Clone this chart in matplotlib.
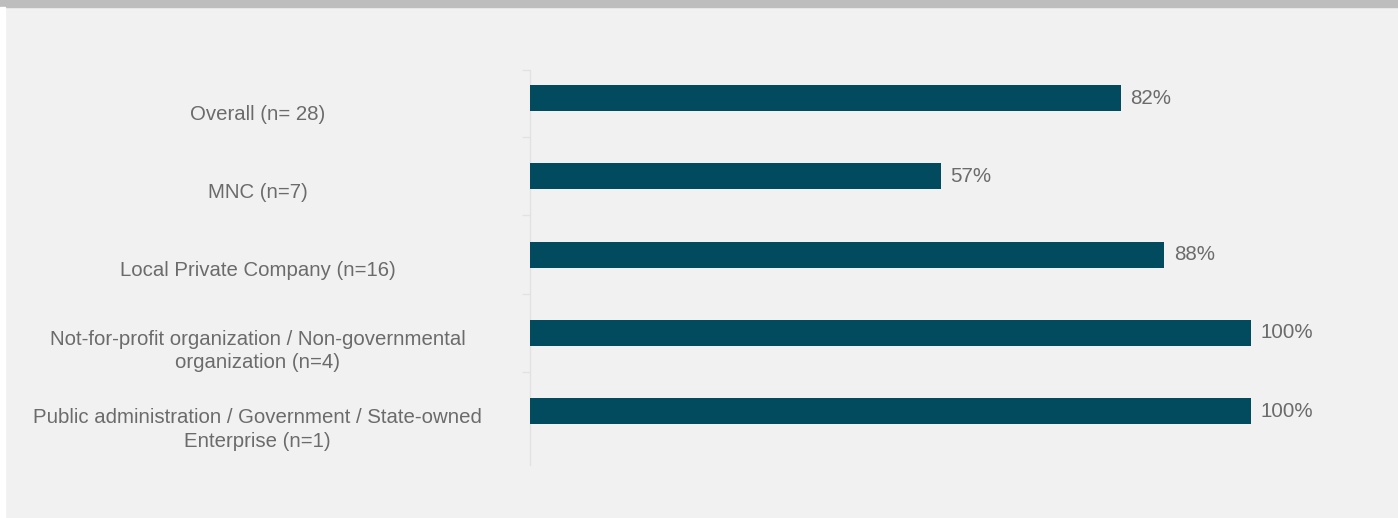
import matplotlib.pyplot as plt
from matplotlib.patches import Rectangle
from matplotlib.transforms import ScaledTranslation

categories = ['Overall (n= 28)',
              'MNC (n=7)',
              'Local Private Company (n=16)',
              'Not-for-profit organization / Non-governmental\norganization (n=4)',
              'Public administration / Government / State-owned\nEnterprise (n=1)']
values = [82, 57, 88, 100, 100]

W, H = 1398, 518
bg = '#f1f1f1'
bar_color = '#024b5e'
text_color = '#6b6b6b'

fig = plt.figure(figsize=(W / 100, H / 100), dpi=100)
fig.patch.set_facecolor(bg)

# grey band along the top, white sliver on the left edge
fig.patches.append(Rectangle((0, 1 - 7 / H), 1, 7 / H, transform=fig.transFigure,
                             color='#bdbdbd', zorder=0))
fig.patches.append(Rectangle((0, 0), 5 / W, 1 - 7 / H, transform=fig.transFigure,
                             color='#ffffff', zorder=0))

# axes: x from 530 px (0%) to 1251 px (100%), y from 70 px to 465 px
x0, x1 = 530, 1251
ax = fig.add_axes([x0 / W, (H - 465) / H, (x1 - x0) / W, 395 / H])
ax.set_facecolor('none')

pos = list(range(len(categories)))
ax.barh(pos, values, height=0.33, color=bar_color, zorder=3)
for p, v in zip(pos, values):
    ax.text(v + 1.3, p, f'{v}%', va='center', ha='left', fontsize=14.8,
            color=text_color, family='Liberation Sans')

ax.set_xlim(0, 100)
ax.set_ylim(4.687, -0.358)

ax.set_yticks(pos)
ax.set_yticklabels(categories, ha='center', multialignment='center',
                   fontsize=14.7, color=text_color, family='Liberation Sans',
                   linespacing=1.3)
ax.tick_params(axis='y', length=0, pad=196)
# category labels sit a little below their bars
shift = ScaledTranslation(0, -0.14, fig.dpi_scale_trans)
for lab in ax.get_yticklabels():
    lab.set_transform(lab.get_transform() + shift)

ax.set_yticks([p + 0.5 for p in pos[:-1]] + [-0.358], minor=True)
ax.tick_params(axis='y', which='minor', length=6, color='#e2e2e2', width=1)
ax.set_xticks([])

for s in ['top', 'right', 'bottom']:
    ax.spines[s].set_visible(False)
ax.spines['left'].set_color('#e2e2e2')
ax.spines['left'].set_linewidth(1)

fig.savefig('out.png', dpi=100, facecolor=bg)
